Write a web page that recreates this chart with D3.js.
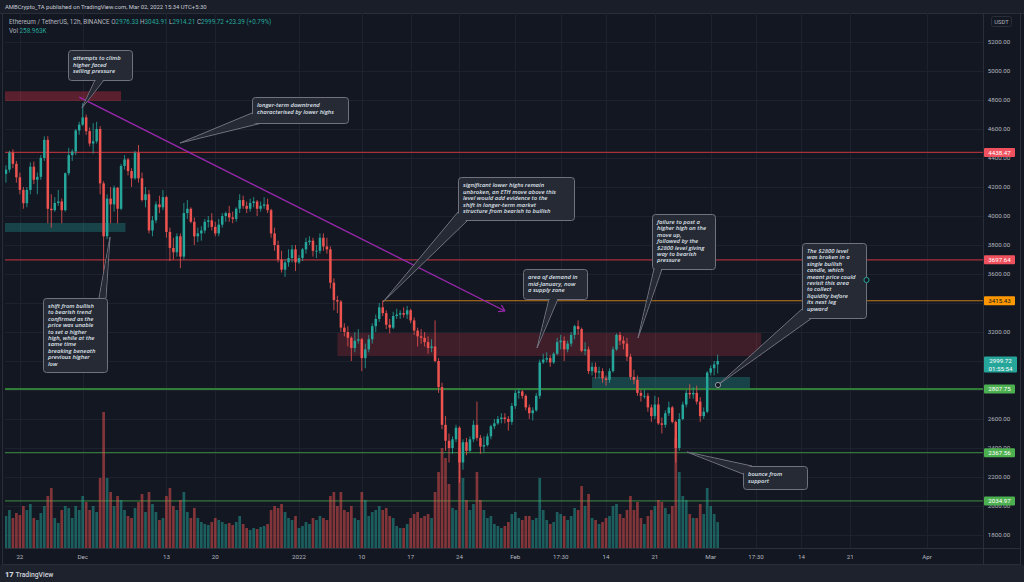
<!DOCTYPE html>
<html><head><meta charset="utf-8">
<script src="https://cdn.jsdelivr.net/npm/d3@7"></script>
<style>
html,body{margin:0;padding:0;background:#131722;overflow:hidden;}
svg{display:block;}
</style></head>
<body>
<svg id="chart" width="1024" height="582"></svg>
<script>
// ---------- DATA (12h candles, ETH/USDT Binance) ----------
const firstCandleUTC = "2021-11-20T00:00:00Z"; // 05:30 IST
const firstOpen = 4290;
const highs = [4350,4450,4460,4380,4300,4200,4200,4370,4375,4300,4420,4550,4550,4150,4130,4180,4120,4300,4470,4460,
4600,4650,4778,4700,4610,4640,4650,4620,4240,4150,4200,4210,4200,4360,4420,4400,4330,4450,4490,4300,
4200,4180,4000,4100,4140,4180,4140,3920,3850,3880,3880,4090,4110,4060,3990,3920,3930,3980,4000,4020,
3960,3980,4020,4030,4070,4030,4060,4150,4140,4100,4120,4130,4110,4100,4130,4120,4050,3920,3830,3760,
3700,3770,3800,3800,3730,3780,3850,3860,3850,3800,3880,3880,3850,3790,3570,3450,3420,3260,3240,3170,
3200,3220,3160,3120,3180,3260,3320,3400,3415.43,3350,3290,3340,3360,3350,3370,3380,3360,3300,3230,3220,
3200,3170,3150,3280,3020,2850,2620,2500,2480,2560,2550,2460,2470,2480,2590,2720,2490,2480,2500,2560,
2600,2620,2640,2640,2620,2710,2800,2810,2800,2770,2700,2680,2780,3010,3050,3060,3040,3060,3160,3180,
3170,3140,3200,3250,3280,3230,3130,3100,2990,2990,2960,2950,2900,2950,3100,3190,3200,3170,3160,3050,
2940,2900,2800,2800,2780,2700,2760,2750,2610,2660,2720,2690,2590,2640,2720,2800,2840,2820,2830,2750,
2680,2930,2970,3000,3043.91];
const lows = [4230,4300,4330,4230,4150,4050,4060,4150,4220,4150,4250,4380,3950,3920,4030,4070,3950,4030,4280,4380,
4420,4560,4620,4560,4480,4430,4500,4150,3500,3840,3950,4030,3950,4040,4320,4280,4200,4250,4230,4100,
4060,3880,3860,3950,4020,4040,3850,3690,3700,3720,3640,3700,3980,3950,3800,3820,3830,3880,3920,3900,
3860,3860,3920,3960,3960,3950,3960,4020,4050,4020,4030,4060,4000,4030,4050,4020,3850,3760,3680,3610,
3580,3650,3680,3620,3670,3690,3740,3800,3720,3710,3740,3760,3740,3500,3350,3330,3200,3170,3100,3000,
3060,3120,2930,2950,3060,3120,3200,3270,3310,3220,3190,3220,3290,3290,3300,3290,3260,3180,3100,3120,
3100,3050,3060,2990,2780,2530,2380,2300,2360,2440,2160,2250,2350,2370,2440,2450,2360,2370,2410,2460,
2530,2560,2570,2570,2520,2560,2670,2740,2740,2660,2600,2590,2650,2740,2980,2990,2960,2980,3040,3080,
3000,3060,3100,3150,3180,3060,3040,2910,2900,2880,2880,2850,2830,2850,2920,3070,3110,3080,3000,2870,
2840,2760,2720,2740,2650,2580,2600,2560,2500,2540,2620,2570,2300,2380,2590,2680,2740,2740,2700,2580,
2600,2640,2900,2900,2914.21];
const closes = [4320,4437,4360,4267,4180,4088,4180,4340,4250,4270,4400,4525,4050,4040,4090,4100,4040,4295,4420,4445,
4590,4630,4680,4585,4500,4515,4600,4225,3860,4120,4080,4195,4050,4345,4390,4310,4260,4435,4260,4110,
4150,3900,3970,4080,4060,4130,3890,3780,3750,3860,3720,4020,4050,3960,3860,3880,3900,3960,3970,3925,
3880,3940,4000,4020,3990,3980,4050,4110,4070,4050,4090,4100,4050,4070,4080,4040,3880,3800,3700,3630,
3680,3710,3770,3680,3710,3770,3820,3830,3760,3760,3850,3790,3770,3540,3420,3410,3230,3200,3160,3090,
3140,3150,3020,3080,3150,3240,3290,3370,3330,3250,3230,3310,3320,3330,3320,3350,3280,3210,3170,3160,
3130,3090,3100,3000,2820,2560,2450,2400,2460,2540,2300,2440,2380,2460,2560,2470,2410,2420,2480,2550,
2570,2600,2610,2600,2580,2690,2780,2790,2760,2680,2640,2660,2760,2990,3010,3020,2990,3050,3130,3140,
3080,3120,3180,3240,3220,3070,3080,2930,2960,2920,2930,2880,2870,2930,3080,3180,3140,3120,3030,2890,
2870,2780,2760,2760,2680,2620,2700,2570,2560,2640,2680,2580,2400,2600,2700,2780,2770,2780,2720,2620,
2650,2920,2950,2976.33,2999.72];
const volumesK = [320,380,300,350,330,420,380,440,300,280,350,420,520,600,300,250,380,420,400,300,
420,380,520,460,380,420,360,700,1360,700,560,420,520,480,380,320,300,400,460,540,
360,560,440,360,280,300,520,600,420,380,480,560,360,300,400,300,260,240,230,260,
300,280,260,240,250,230,260,320,240,200,180,200,190,210,220,240,380,420,400,440,
360,300,280,320,200,220,260,240,300,280,320,300,280,520,560,420,560,380,360,420,
300,280,560,480,320,360,380,420,380,400,320,300,220,200,200,240,300,340,360,300,
320,340,300,560,760,1000,900,640,400,380,1000,700,480,380,440,760,480,380,300,320,
240,220,200,220,260,340,360,300,280,320,320,280,300,700,380,280,240,260,360,340,
320,280,320,400,380,620,420,540,300,280,240,260,300,320,420,440,340,300,380,520,
380,460,300,240,320,380,420,480,460,400,340,420,1100,760,520,480,340,300,300,440,
340,600,420,340,258.963];

const priceTicks = [1800,2000,2200,2400,2600,2800,3000,3200,3400,3600,3800,4000,4200,4400,4600,4800,5000,5200];
const timeTicks = [
 ["2021-11-22T00:00:00Z","22"],["2021-12-01T00:00:00Z","Dec"],["2021-12-13T00:00:00Z","13"],["2021-12-20T00:00:00Z","20"],
 ["2022-01-01T00:00:00Z","2022"],["2022-01-10T00:00:00Z","10"],["2022-01-17T00:00:00Z","17"],["2022-01-24T00:00:00Z","24"],
 ["2022-02-01T00:00:00Z","Feb"],["2022-02-07T12:00:00Z","17:30"],["2022-02-14T00:00:00Z","14"],["2022-02-21T00:00:00Z","21"],
 ["2022-03-01T00:00:00Z","Mar"],["2022-03-07T12:00:00Z","17:30"],["2022-03-14T00:00:00Z","14"],["2022-03-21T00:00:00Z","21"],
 ["2022-04-01T00:00:00Z","Apr"]];

const levelPrices = [4438.47, 3697.64, 3415.43, 2807.75, 2367.56, 2034.97];
const levelKinds  = ["res","res","key","sup2","sup","sup"];
const levelStarts = [null, null, "2022-01-13T00:00:00Z", null, null, null];
const lastPrice = 2999.72, countdown = "01:55:54";

// zones: [startTime, endTime, priceTop, priceBottom, kind]
const zones = [
 ["2021-11-19T00:00:00Z","2021-12-06T12:00:00Z",4860,4793,"red"],
 ["2021-11-19T00:00:00Z","2021-12-07T03:00:00Z",3952,3890,"teal"],
 ["2022-01-06T12:00:00Z","2022-03-08T06:00:00Z",3193,3034,"redzone"],
 ["2022-02-12T00:00:00Z","2022-03-06T15:00:00Z",2890,2814,"teal"]
];
const trend = [["2021-11-30T12:00:00Z",4820],["2022-01-30T12:30:00Z",3345]];

const notes = [
 ["attempts to climb","higher faced","selling pressure"],
 ["longer-term downtrend","characterised by lower highs"],
 ["shift from bullish","to bearish trend","confirmed as the","price was unable","to set a higher","high, while at the","same time","breaking beneath","previous higher","low"],
 ["significant lower highs remain","unbroken, an ETH move above this","level would add evidence to the","shift in longer-term market","structure from bearish to bullish"],
 ["area of demand in","mid-January, now","a supply zone"],
 ["failure to post a","higher high on the","move up,","followed by the","$2800 level giving","way to bearish","pressure"],
 ["The $2800 level","was broken in a","single bullish","candle, which","meant price could","revisit this area","to collect","liquidity before","its next leg","upward"],
 ["bounce from","support"]
];
// layout of callouts (pixels): box [x,y,w,h], tail base points, tail apex, line step
const noteLayout = [
 {box:[68,50,64,30], base:[[95,80],[104,80]], apex:[82,108], step:6.7},
 {box:[252,97,96,26], base:[[252,113],[262,123]], apex:[180,143], step:6.7},
 {box:[43,298,64,74], base:[[99,298],[106,298]], apex:[110,237], step:6.4},
 {box:[458,177,116,43], base:[[458,212],[468,220]], apex:[383,302], step:6.5},
 {box:[523,269,64,30], base:[[549,299],[558,299]], apex:[537,348], step:6.7},
 {box:[652,214,63,55], base:[[654,269],[662,269]], apex:[638,338], step:6.4},
 {box:[802,243,64,75], base:[[802,309],[812,318]], apex:[718,385], step:6.4, handle:true, dot:true},
 {box:[743,466,64,23], base:[[743,474],[752,466]], apex:[687,452], step:6.7}
];

// ---------- RENDER ----------
const W=1024,H=582;
const plotL=5, plotR=983, plotT=13, plotB=548;
const UP="#26a69a", DN="#ef5350";
const svg=d3.select("#chart");

const x=d3.scaleUtc().domain([new Date("2022-01-01T00:00:00Z"),new Date("2022-04-01T00:00:00Z")]).range([299,927]);
const y=d3.scaleLinear().domain([1800,5200]).range([535,42]);
const yv=d3.scaleLinear().domain([0,1000]).range([plotB,plotB-100]);

svg.append("rect").attr("width",W).attr("height",H).attr("fill","#131722");
svg.append("rect").attr("x",0).attr("y",0).attr("width",W).attr("height",13).attr("fill","#1a1e29");
svg.append("rect").attr("x",0).attr("y",565).attr("width",W).attr("height",17).attr("fill","#1e222d");
svg.append("line").attr("x1",0).attr("x2",W).attr("y1",13.5).attr("y2",13.5).attr("stroke","#2a2e39");
svg.append("rect").attr("x",2.5).attr("y",13.5).attr("width",1018).attr("height",551).attr("fill","none").attr("stroke","#2a2e39");

const defs=svg.append("defs");
defs.append("clipPath").attr("id","plot").append("rect").attr("x",plotL).attr("y",plotT).attr("width",plotR-plotL).attr("height",plotB-plotT);

const gGrid=svg.append("g");
priceTicks.forEach(p=>gGrid.append("line").attr("x1",plotL).attr("x2",plotR).attr("y1",y(p)+.5).attr("y2",y(p)+.5).attr("stroke","#1e222e"));
timeTicks.forEach(t=>{const xx=Math.round(x(new Date(t[0])))+.5;gGrid.append("line").attr("x1",xx).attr("x2",xx).attr("y1",plotT).attr("y2",plotB).attr("stroke","#1e222e");});

const plot=svg.append("g").attr("clip-path","url(#plot)");

// zones
const zoneFill={red:"rgba(242,54,69,0.32)",teal:"rgba(38,166,154,0.32)",redzone:"rgba(242,54,69,0.2)"};
zones.forEach(z=>{
  const x0=x(new Date(z[0])),x1=x(new Date(z[1]));
  plot.append("rect").attr("x",x0).attr("y",y(z[2])).attr("width",x1-x0).attr("height",y(z[3])-y(z[2])).attr("fill",zoneFill[z[4]]);
});

// level lines
const lineStyle={res:["#a8303a",1.3],key:["#c27a1b",1],sup2:["#2f7d36",2],sup:["#3f8f44",1]};
levelPrices.forEach((p,i)=>{
  const st=lineStyle[levelKinds[i]];
  const x0=levelStarts[i]?x(new Date(levelStarts[i])):plotL;
  plot.append("line").attr("x1",x0).attr("x2",plotR).attr("y1",y(p)).attr("y2",y(p)).attr("stroke",st[0]).attr("stroke-width",st[1]);
});

// candles
const t0=Date.parse(firstCandleUTC);
const candles=closes.map((c,i)=>({t:new Date(t0+i*12*3600e3),o:i===0?firstOpen:closes[i-1],h:highs[i],l:lows[i],c:c,v:volumesK[i]}));
plot.append("g").selectAll("rect").data(candles).join("rect")
  .attr("x",d=>x(d.t)-1.35).attr("width",2.7)
  .attr("y",d=>yv(d.v)).attr("height",d=>plotB-yv(d.v))
  .attr("fill",d=>d.c>=d.o?UP:DN).attr("opacity",0.5);
const gc=plot.append("g");
gc.selectAll("line").data(candles).join("line")
  .attr("x1",d=>x(d.t)).attr("x2",d=>x(d.t)).attr("y1",d=>y(d.h)).attr("y2",d=>y(d.l))
  .attr("stroke",d=>d.c>=d.o?UP:DN).attr("stroke-width",0.8);
gc.selectAll("rect").data(candles).join("rect")
  .attr("x",d=>x(d.t)-1.25).attr("width",2.5)
  .attr("y",d=>y(Math.max(d.o,d.c))).attr("height",d=>Math.max(0.8,Math.abs(y(d.o)-y(d.c))))
  .attr("fill",d=>d.c>=d.o?UP:DN);

// trend line
const p0=[x(new Date(trend[0][0])),y(trend[0][1])],p1=[x(new Date(trend[1][0])),y(trend[1][1])];
plot.append("line").attr("x1",p0[0]).attr("y1",p0[1]).attr("x2",p1[0]).attr("y2",p1[1]).attr("stroke","#9c27b0").attr("stroke-width",1.3);
const ang=Math.atan2(p1[1]-p0[1],p1[0]-p0[0]);
[Math.PI*0.82,-Math.PI*0.82].forEach(a=>{
  plot.append("line").attr("x1",p1[0]).attr("y1",p1[1]).attr("x2",p1[0]+7*Math.cos(ang+a)).attr("y2",p1[1]+7*Math.sin(ang+a)).attr("stroke","#9c27b0").attr("stroke-width",1.3);
});

// callouts
const BOX="#262a35", EDGE="#70737e";
notes.forEach((lines,i)=>{
  const L=noteLayout[i], g=svg.append("g");
  const [bx,by,bw,bh]=L.box;
  const b0=L.base[0],b1=L.base[1],ap=L.apex;
  g.append("path").attr("d",`M${b0}L${ap}L${b1}Z`).attr("fill",BOX).attr("stroke",EDGE).attr("stroke-width",1);
  g.append("rect").attr("x",bx+.5).attr("y",by+.5).attr("width",bw).attr("height",bh).attr("rx",3).attr("fill",BOX).attr("stroke",EDGE).attr("stroke-width",1);
  const mx=(b0[0]+b1[0])/2,my=(b0[1]+b1[1])/2;
  const sh=(p,k)=>[p[0]+(mx-p[0])*k,p[1]+(my-p[1])*k];
  const a2=[ap[0]+(mx-ap[0])*0.12,ap[1]+(my-ap[1])*0.12];
  g.append("path").attr("d",`M${sh(b0,0.2)}L${a2}L${sh(b1,0.2)}Z`).attr("fill",BOX);
  lines.forEach((s,k)=>g.append("text").attr("x",bx+5).attr("y",by+10+k*L.step).attr("fill","#dfe2ea")
    .attr("font-family","'Open Sans',sans-serif").attr("font-style","italic").attr("font-weight",600).attr("font-size",5.9).text(s));
  if(L.handle) g.append("circle").attr("cx",bx+bw+.5).attr("cy",by+37).attr("r",2.6).attr("fill","#131722").attr("stroke","#26a69a").attr("stroke-width",1);
  if(L.dot) g.append("circle").attr("cx",ap[0]).attr("cy",ap[1]).attr("r",2.6).attr("fill","#131722").attr("stroke","#9598a1").attr("stroke-width",1);
});

// price axis
svg.append("line").attr("x1",plotR+.5).attr("x2",plotR+.5).attr("y1",plotT).attr("y2",565).attr("stroke","#2a2e39");
svg.append("line").attr("x1",plotL).attr("x2",W-3).attr("y1",plotB+.5).attr("y2",plotB+.5).attr("stroke","#2a2e39");
const ax=svg.append("g").attr("font-family","Roboto,sans-serif").attr("font-size",6.2).attr("fill","#b2b5be");
const covered=levelPrices.map(p=>y(p)).concat([y(lastPrice)+3]);
priceTicks.forEach(p=>{
  if(covered.some(c=>Math.abs(c-y(p))<3.5)) return; // fully hidden under a price box
  ax.append("text").attr("x",999).attr("y",y(p)+2.2).attr("text-anchor","middle").text(d3.format(".2f")(p));
});
svg.append("rect").attr("x",991.5).attr("y",16.5).attr("width",20).attr("height",10).attr("rx",2).attr("fill","#131722").attr("stroke","#2a2e39");
svg.append("text").attr("x",1001.5).attr("y",23.6).attr("text-anchor","middle").attr("font-family","Roboto,sans-serif").attr("font-size",5.8).attr("fill","#b2b5be").text("USDT");

const boxCol={res:"#f0515e",key:"#ff9800",sup2:"#4caf50",sup:"#4caf50"};
levelPrices.forEach((p,i)=>{
  const yy=y(p);
  svg.append("rect").attr("x",984).attr("y",yy-4.5).attr("width",31).attr("height",9).attr("rx",1).attr("fill",boxCol[levelKinds[i]]);
  svg.append("text").attr("x",999.5).attr("y",yy+2.2).attr("text-anchor","middle").attr("font-family","Roboto,sans-serif").attr("font-size",6.2)
    .attr("fill",levelKinds[i]==="key"?"#131722":"#ffffff").text(d3.format(".2f")(p));
});
const ly=y(lastPrice);
svg.append("rect").attr("x",984).attr("y",ly-4.5).attr("width",33).attr("height",16).attr("rx",1).attr("fill","#26a69a");
svg.append("text").attr("x",1000.5).attr("y",ly+2.2).attr("text-anchor","middle").attr("font-family","Roboto,sans-serif").attr("font-size",6.2).attr("fill","#fff").text(d3.format(".2f")(lastPrice));
svg.append("text").attr("x",1000.5).attr("y",ly+9.6).attr("text-anchor","middle").attr("font-family","Roboto,sans-serif").attr("font-size",6.2).attr("fill","#fff").text(countdown);

// time axis
timeTicks.forEach(t=>ax.append("text").attr("x",x(new Date(t[0]))).attr("y",558.5).attr("text-anchor","middle").text(t[1]));

// header + legend
svg.append("text").attr("x",5).attr("y",8.8).attr("font-family","Roboto,sans-serif").attr("font-size",5.9).attr("fill","#c8cbd3")
  .text("AMBCrypto_TA published on TradingView.com, Mar 02, 2022 15:34 UTC+5:30");
const last=candles[candles.length-1];
const chg=last.c-last.o;
const leg=svg.append("text").attr("x",9).attr("y",23.8).attr("font-family","Roboto,sans-serif").attr("font-size",6.3).attr("fill","#b2b5be");
leg.append("tspan").text("Ethereum / TetherUS, 12h, BINANCE  ");
[["O",last.o],["H",last.h],["L",last.l],["C",last.c]].forEach(a=>{
  leg.append("tspan").attr("fill","#b2b5be").text(" "+a[0]);
  leg.append("tspan").attr("fill",UP).text(d3.format(".2f")(a[1]));
});
leg.append("tspan").attr("fill",UP).text("  +"+d3.format(".2f")(chg)+" (+"+d3.format(".2f")(chg/last.o*100)+"%)");
const vl=svg.append("text").attr("x",9).attr("y",33.2).attr("font-family","Roboto,sans-serif").attr("font-size",6.3).attr("fill","#b2b5be");
vl.append("tspan").text("Vol ");
vl.append("tspan").attr("fill",UP).text(d3.format(".3f")(last.v)+"K");

// footer
svg.append("text").attr("x",5).attr("y",577).attr("font-family","Roboto,sans-serif").attr("font-weight",900).attr("font-size",7.5).attr("fill","#d1d4dc").text("17");
svg.append("text").attr("x",15.5).attr("y",577).attr("font-family","Roboto,sans-serif").attr("font-weight",500).attr("font-size",6.8).attr("fill","#d1d4dc").text("TradingView");
</script>
</body></html>
